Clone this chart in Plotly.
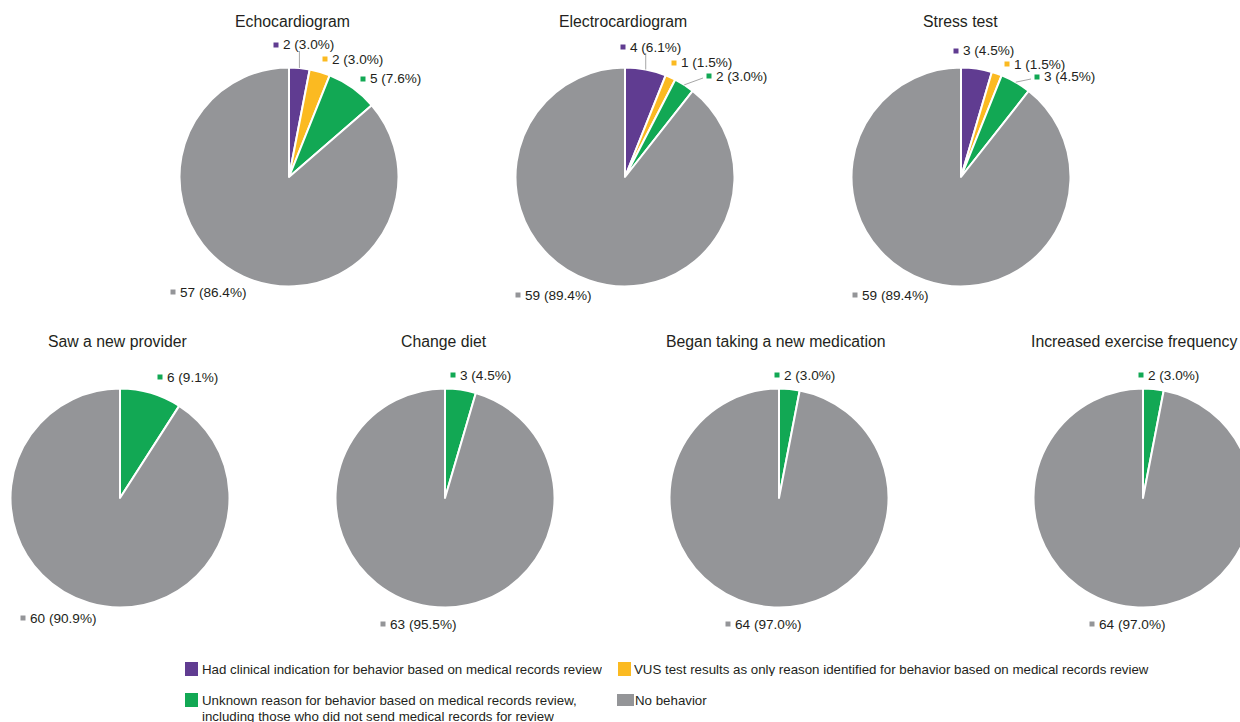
import math
import plotly.graph_objects as go

# ---------------- data ----------------
categories = [
    "Had clinical indication for behavior based on medical records review",
    "VUS test results as only reason identified for behavior based on medical records review",
    "Unknown reason for behavior based on medical records review,<br>including those who did not send medical records for review",
    "No behavior",
]
titles = ["Echocardiogram", "Electrocardiogram", "Stress test",
          "Saw a new provider", "Change diet", "Began taking a new medication",
          "Increased exercise frequency"]
echocardiogram = [2, 2, 5, 57]
electrocardiogram = [4, 1, 2, 59]
stress_test = [3, 1, 3, 59]
new_provider = [0, 0, 6, 60]
change_diet = [0, 0, 3, 63]
new_medication = [0, 0, 2, 64]
exercise = [0, 0, 2, 64]
series = [echocardiogram, electrocardiogram, stress_test, new_provider,
          change_diet, new_medication, exercise]

# ---------------- style / layout ----------------
colors = ["#603C91", "#FBBA21", "#12A854", "#949598"]
FONT = "Liberation Sans, Arial, Helvetica, sans-serif"
TXT = "#231F20"
W, H = 1260, 722
R = 109.5
centers = [(289, 177), (625, 177), (961, 177),
           (120, 498), (445, 498), (779, 498), (1143, 498)]
title_shift = [3, -2, -1, -3, -1, -3, -9]
# label square offsets (px, from pie centre) for each non-zero slice, and leader style
label_layout = [
    [(-13, -132, "v"), (36, -118, None), (74, -98, None), (-116, 115, None)],
    [(-2, -130, "v"), (49, -114, None), (84, -101, "h"), (-107, 118, None)],
    [(-5, -126, None), (46, -113, None), (76, -100, "h"), (-106, 118, None)],
    [(40, -121, None), (-97, 120, None)],
    [(8, -123, None), (-62, 126, None)],
    [(-2, -123, None), (-51, 126, None)],
    [(-2, -123, None), (-51, 126, None)],
]


def px(x):
    return x / W


def py(y):
    return 1 - y / H


fig = go.Figure()
shapes = []
annotations = []

for k, (title, vals) in enumerate(zip(titles, series)):
    cx, cy = centers[k]
    idx = [i for i, v in enumerate(vals) if v > 0]
    v_nz = [vals[i] for i in idx]
    total = sum(vals)
    fig.add_trace(go.Pie(
        values=v_nz,
        labels=[categories[i] for i in idx],
        marker=dict(colors=[colors[i] for i in idx], line=dict(color="white", width=2)),
        sort=False, direction="clockwise", rotation=0,
        textinfo="none", showlegend=False,
        hovertemplate="%{value} (%{percent})<extra></extra>",
        domain=dict(x=[px(cx - R), px(cx + R)], y=[py(cy + R), py(cy - R)]),
    ))
    annotations.append(dict(x=px(cx + title_shift[k]), y=py(cy - 156), xref="paper", yref="paper",
                            text=title, showarrow=False, xanchor="center", yanchor="middle",
                            font=dict(family=FONT, size=15.8, color=TXT)))
    cum = 0
    for j, i in enumerate(idx):
        v = vals[i]
        mid = (cum + v / 2) / total * 2 * math.pi
        cum += v
        dx, dy, leader = label_layout[k][j]
        sx, sy = cx + dx, cy + dy
        shapes.append(dict(type="rect", xref="paper", yref="paper",
                           x0=px(sx - 2.5), x1=px(sx + 2.5), y0=py(sy + 2.5), y1=py(sy - 2.5),
                           fillcolor=colors[i], line=dict(width=0)))
        pct = v / total * 100
        annotations.append(dict(x=px(sx + 5), y=py(sy), xref="paper", yref="paper",
                                text=f"{v} ({pct:.1f}%)", showarrow=False,
                                xanchor="left", yanchor="middle",
                                font=dict(family=FONT, size=13.6, color=TXT)))
        if leader:
            ex0 = cx + R * math.sin(mid)
            ey0 = cy - R * math.cos(mid)
            if leader == "v":
                ex1, ey1 = ex0, sy + 6
            else:
                ex1, ey1 = sx - 6, sy + 2
            shapes.append(dict(type="line", xref="paper", yref="paper",
                               x0=px(ex0), y0=py(ey0), x1=px(ex1), y1=py(ey1),
                               line=dict(color="#A6A6A6", width=1)))

# ---------------- custom legend ----------------
legend_items = [  # square box (x0, x1, y0, y1), text x, first-line text y
    (0, (185, 198, 662, 676), 202, 669),
    (1, (618, 631, 662, 676), 634, 669),
    (2, (185, 198, 693, 707), 202, 700),
    (3, (617, 634, 694, 706), 635, 700),
]
LINE_STEP = 15.5
for i, (x0, x1, y0, y1), tx, ty in legend_items:
    shapes.append(dict(type="rect", xref="paper", yref="paper",
                       x0=px(x0), x1=px(x1), y0=py(y1), y1=py(y0),
                       fillcolor=colors[i], line=dict(width=0)))
    for n, line_text in enumerate(categories[i].split("<br>")):
        annotations.append(dict(x=px(tx), y=py(ty + n * LINE_STEP), xref="paper", yref="paper",
                                text=line_text, showarrow=False, align="left",
                                xanchor="left", yanchor="middle", valign="middle",
                                height=14, borderpad=0, borderwidth=0,
                                font=dict(family=FONT, size=13.3, color=TXT)))

fig.update_layout(
    width=W, height=H,
    margin=dict(l=0, r=0, t=0, b=0),
    paper_bgcolor="white", plot_bgcolor="white",
    shapes=shapes, annotations=annotations,
    showlegend=False,
)

fig.write_html("out.html",
               post_script="document.body.style.margin='0';document.body.style.overflow='hidden';"
                           "document.documentElement.style.overflow='hidden';")
